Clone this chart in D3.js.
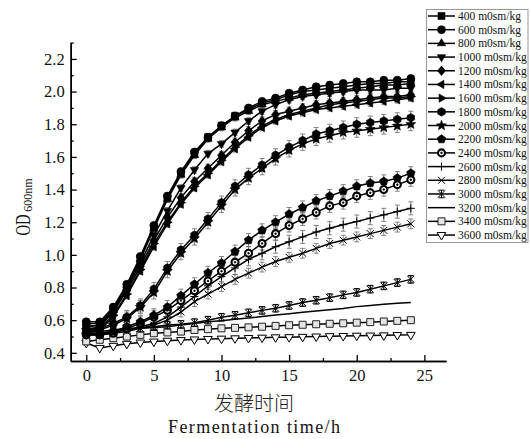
<!DOCTYPE html>
<html>
<head>
<meta charset="utf-8">
<script src="https://cdn.jsdelivr.net/npm/d3@7"></script>
<style>
  body { margin: 0; background: #fff; }
  svg { display: block; }
</style>
</head>
<body>
<svg id="chart" width="530" height="439"></svg>
<script>
// 시간 (h)
const hours = [0,1,2,3,4,5,6,7,8,9,10,11,12,13,14,15,16,17,18,19,20,21,22,23,24];

const levels = ["400 m0sm/kg","600 m0sm/kg","800 m0sm/kg","1000 m0sm/kg","1200 m0sm/kg",
  "1400 m0sm/kg","1600 m0sm/kg","1800 m0sm/kg","2000 m0sm/kg","2200 m0sm/kg","2400 m0sm/kg",
  "2600 m0sm/kg","2800 m0sm/kg","3000 m0sm/kg","3200 m0sm/kg","3400 m0sm/kg","3600 m0sm/kg"];

// OD600 값
const od400  = [0.58,0.58,0.67,0.81,0.98,1.17,1.35,1.50,1.62,1.72,1.79,1.85,1.89,1.93,1.95,1.98,2.00,2.01,2.02,2.03,2.04,2.05,2.05,2.06,2.06];
const od600  = [0.59,0.59,0.68,0.82,0.99,1.18,1.36,1.51,1.63,1.72,1.79,1.85,1.90,1.94,1.96,1.99,2.01,2.03,2.04,2.05,2.06,2.06,2.07,2.07,2.08];
const od800  = [0.56,0.57,0.66,0.80,0.97,1.16,1.34,1.49,1.61,1.71,1.78,1.84,1.88,1.92,1.94,1.96,1.98,1.99,2.00,2.01,2.02,2.03,2.04,2.04,2.05];
const od1000 = [0.56,0.57,0.66,0.79,0.95,1.12,1.27,1.41,1.52,1.62,1.68,1.75,1.82,1.88,1.92,1.95,1.97,1.98,1.99,2.00,2.01,2.01,2.01,2.02,2.02];
const od1200 = [0.54,0.56,0.65,0.78,0.93,1.09,1.23,1.35,1.45,1.53,1.61,1.69,1.76,1.82,1.86,1.88,1.90,1.92,1.93,1.94,1.95,1.96,1.97,1.97,1.98];
const od1400 = [0.52,0.54,0.62,0.75,0.90,1.05,1.19,1.31,1.41,1.49,1.57,1.65,1.72,1.78,1.82,1.85,1.87,1.89,1.90,1.91,1.92,1.93,1.94,1.95,1.96];
const od1600 = [0.53,0.55,0.63,0.76,0.91,1.07,1.20,1.32,1.42,1.50,1.58,1.66,1.73,1.79,1.83,1.86,1.88,1.90,1.92,1.93,1.94,1.95,1.96,1.96,1.97];
const od1800 = [0.55,0.55,0.58,0.62,0.69,0.79,0.92,1.03,1.12,1.22,1.32,1.42,1.49,1.55,1.61,1.66,1.70,1.74,1.76,1.78,1.80,1.81,1.82,1.83,1.84];
const od2000 = [0.54,0.54,0.57,0.61,0.68,0.77,0.90,1.01,1.10,1.20,1.30,1.40,1.47,1.53,1.59,1.64,1.68,1.71,1.73,1.75,1.76,1.77,1.78,1.79,1.80];
const od2200 = [0.52,0.51,0.53,0.56,0.59,0.63,0.68,0.75,0.82,0.89,0.95,1.02,1.09,1.15,1.20,1.25,1.29,1.33,1.36,1.39,1.42,1.44,1.45,1.47,1.50];
const od2400 = [0.51,0.51,0.52,0.55,0.58,0.62,0.66,0.72,0.78,0.84,0.90,0.955,1.01,1.07,1.13,1.18,1.22,1.26,1.30,1.32,1.36,1.38,1.40,1.43,1.46];
const od2600 = [0.52,0.52,0.53,0.54,0.56,0.58,0.62,0.68,0.745,0.81,0.867,0.92,0.973,1.01,1.05,1.08,1.11,1.14,1.163,1.185,1.204,1.225,1.245,1.265,1.285];
const od2800 = [0.51,0.51,0.52,0.53,0.55,0.57,0.60,0.65,0.714,0.76,0.806,0.85,0.888,0.925,0.959,0.985,1.01,1.04,1.07,1.09,1.11,1.13,1.15,1.17,1.19];
const od3000 = [0.53,0.53,0.54,0.55,0.55,0.56,0.57,0.575,0.585,0.60,0.618,0.63,0.645,0.66,0.673,0.69,0.708,0.722,0.738,0.755,0.77,0.79,0.81,0.83,0.85];
const od3200 = [0.52,0.52,0.53,0.54,0.55,0.555,0.56,0.57,0.58,0.59,0.596,0.605,0.613,0.622,0.631,0.64,0.648,0.656,0.664,0.672,0.683,0.69,0.697,0.703,0.708];
const od3400 = [0.47,0.48,0.49,0.50,0.51,0.52,0.525,0.53,0.54,0.545,0.55,0.553,0.556,0.56,0.565,0.569,0.572,0.575,0.578,0.581,0.585,0.588,0.592,0.596,0.60];
const od3600 = [0.46,0.43,0.443,0.455,0.463,0.469,0.474,0.478,0.482,0.485,0.487,0.489,0.491,0.493,0.495,0.496,0.498,0.50,0.502,0.503,0.505,0.506,0.507,0.509,0.51];

// 표준편차 (시리즈별 대략값)
const sdValues = [0.025,0.02,0.02,0.02,0.025,0.02,0.02,0.04,0.04,0.04,0.04,0.04,0.03,0.02,0,0.015,0.012];

const yTicks = [0.4,0.6,0.8,1.0,1.2,1.4,1.6,1.8,2.0,2.2];
const xTicks = [0,5,10,15,20,25];

// 마커 모양 (스타일)
const shapes = ["square","circle","triUp","triDown","diamond","triLeft","triRight","hexagon","star",
  "pentagon","circleDot","plus","cross","asterisk","none","openSquare","openTriDown"];

const allOd = [od400,od600,od800,od1000,od1200,od1400,od1600,od1800,od2000,od2200,od2400,
  od2600,od2800,od3000,od3200,od3400,od3600];

const series = levels.map((name, i) => ({
  name,
  shape: shapes[i],
  sd: sdValues[i],
  points: hours.map((t, j) => ({ t, v: allOd[i][j] }))
}));

/* ---------- 마커 경로 ---------- */
function polygon(n, r, rot) {
  const pts = d3.range(n).map(k => {
    const a = rot + k * 2 * Math.PI / n;
    return [r * Math.sin(a), -r * Math.cos(a)];
  });
  return "M" + pts.map(p => p.map(v => v.toFixed(2)).join(",")).join("L") + "Z";
}
function starPath(ro, ri) {
  const pts = d3.range(10).map(k => {
    const r = k % 2 ? ri : ro;
    const a = k * Math.PI / 5;
    return [r * Math.sin(a), -r * Math.cos(a)];
  });
  return "M" + pts.map(p => p.map(v => v.toFixed(2)).join(",")).join("L") + "Z";
}
const circleD = r => `M${-r},0A${r},${r} 0 1,0 ${r},0A${r},${r} 0 1,0 ${-r},0Z`;

function drawMarker(g, shape, cx, cy) {
  const m = g.append("g").attr("transform", `translate(${cx},${cy})`);
  const solid = d => m.append("path").attr("d", d).attr("fill", "#000").attr("stroke", "#000").attr("stroke-width", 0.6);
  const open = d => m.append("path").attr("d", d).attr("fill", "#fff").attr("stroke", "#000").attr("stroke-width", 1);
  const strk = d => m.append("path").attr("d", d).attr("fill", "none").attr("stroke", "#000").attr("stroke-width", 1);
  switch (shape) {
    case "square": solid("M-3.5,-3.5H3.5V3.5H-3.5Z"); break;
    case "circle": solid(circleD(4)); break;
    case "triUp": solid(polygon(3, 4.8, 0)); break;
    case "triDown": solid(polygon(3, 4.8, Math.PI)); break;
    case "triLeft": solid(polygon(3, 4.8, -Math.PI / 2)); break;
    case "triRight": solid(polygon(3, 4.8, Math.PI / 2)); break;
    case "diamond": solid("M0,-4.8L4,0L0,4.8L-4,0Z"); break;
    case "hexagon": solid(polygon(6, 4.3, 0)); break;
    case "pentagon": solid(polygon(5, 4.5, 0)); break;
    case "star": solid(starPath(5.2, 2.3)); break;
    case "circleDot":
      m.append("path").attr("d", circleD(3.5)).attr("fill", "#fff").attr("stroke", "#000").attr("stroke-width", 2.1);
      solid(circleD(0.9));
      break;
    case "plus": strk("M-4,0H4M0,-4V4"); break;
    case "cross": strk("M-3.5,-3.5L3.5,3.5M-3.5,3.5L3.5,-3.5"); break;
    case "asterisk": strk("M-3.5,-3.5L3.5,3.5M-3.5,3.5L3.5,-3.5M0,-4V4M-3,-3.8H3M-3,3.8H3"); break;
    case "openSquare":
      m.append("path").attr("d", "M-3.5,-3.5H3.5V3.5H-3.5Z").attr("fill", "#e4e4e4").attr("stroke", "#222").attr("stroke-width", 1);
      break;
    case "openTriDown": open(polygon(3, 5, Math.PI)); break;
  }
}

/* ---------- 차트 ---------- */
const svg = d3.select("#chart");
svg.append("rect").attr("width", 530).attr("height", 439).attr("fill", "#fff");

const x = d3.scaleLinear().domain([-1.15, 26.6]).range([70.7, 446]);
const y = d3.scaleLinear().domain([0.35, 2.3]).range([361, 42.6]);

const serif = "'Liberation Serif','DejaVu Serif',serif";

// 축
const yAxis = svg.append("g")
  .attr("transform", `translate(${x.range()[0]},0)`)
  .call(d3.axisLeft(y).tickValues(yTicks).tickFormat(d3.format(".1f"))
    .tickSize(-6).tickSizeOuter(0).tickPadding(6));
const yMinor = svg.append("g")
  .attr("transform", `translate(${x.range()[0]},0)`)
  .call(d3.axisLeft(y).tickValues(yTicks.map(v => v + 0.1)).tickFormat("")
    .tickSize(-3).tickSizeOuter(0));

const xAxis = svg.append("g")
  .attr("transform", `translate(0,${y.range()[0]})`)
  .call(d3.axisBottom(x).tickValues(xTicks).tickFormat(d3.format("d"))
    .tickSize(-6).tickSizeOuter(0).tickPadding(8));
const xMinor = svg.append("g")
  .attr("transform", `translate(0,${y.range()[0]})`)
  .call(d3.axisBottom(x).tickValues(xTicks.slice(0, -1).map(v => v + 2.5)).tickFormat("")
    .tickSize(-3).tickSizeOuter(0));

[yAxis, yMinor, xAxis, xMinor].forEach(a => {
  a.select(".domain").attr("stroke", "#000").attr("stroke-width", 1.5);
  a.selectAll(".tick line").attr("stroke", "#000").attr("stroke-width", 1.3);
  a.selectAll(".tick text").attr("font-family", serif).attr("font-size", 16.5).attr("fill", "#111");
});

// 오차막대
const gErr = svg.append("g");
series.forEach(s => {
  if (!s.sd) return;
  s.points.forEach(p => {
    const px = x(p.t), y0 = y(p.v - s.sd), y1 = y(p.v + s.sd);
    gErr.append("path")
      .attr("d", `M${px},${y0}V${y1}M${px - 2.5},${y0}H${px + 2.5}M${px - 2.5},${y1}H${px + 2.5}`)
      .attr("fill", "none").attr("stroke", "#666").attr("stroke-width", 0.8);
  });
});

// 선
const line = d3.line().x(d => x(d.t)).y(d => y(d.v));
const gLines = svg.append("g");
series.forEach(s => {
  gLines.append("path").attr("d", line(s.points))
    .attr("fill", "none").attr("stroke", "#000").attr("stroke-width", 1.5);
});

// 마커
const gMarks = svg.append("g");
series.slice().reverse().forEach(s => {
  s.points.forEach(p => drawMarker(gMarks, s.shape, x(p.t), y(p.v)));
});

// 범례
const leg = svg.append("g");
leg.append("rect").attr("x", 426.5).attr("y", 9.5).attr("width", 101.5).attr("height", 233)
  .attr("fill", "#fff").attr("stroke", "#999").attr("stroke-width", 1);
series.forEach((s, i) => {
  const cy = 16 + i * 13.69;
  leg.append("line").attr("x1", 428).attr("x2", 455).attr("y1", cy).attr("y2", cy)
    .attr("stroke", "#000").attr("stroke-width", 1.5);
  drawMarker(leg, s.shape, 441.5, cy);
  leg.append("text").attr("x", 458).attr("y", cy + 4)
    .attr("font-family", serif).attr("font-size", 11.5).attr("fill", "#111")
    .text(s.name);
});

// 축 제목
svg.append("text")
  .attr("transform", "translate(29.5,225) rotate(-90) scale(0.66,1)")
  .attr("text-anchor", "middle").attr("font-family", serif).attr("font-size", 22).attr("fill", "#111")
  .text("OD");
svg.append("text")
  .attr("transform", "translate(32,195) rotate(-90)")
  .attr("text-anchor", "middle").attr("font-family", serif).attr("font-size", 12).attr("fill", "#111")
  .text("600nm");

svg.append("text")
  .attr("x", 254).attr("y", 411).attr("text-anchor", "middle")
  .attr("font-family", "'Noto Sans CJK SC',sans-serif").attr("font-weight", 300)
  .attr("font-size", 20).attr("fill", "#222")
  .text("发酵时间");
svg.append("text")
  .attr("x", 254).attr("y", 433).attr("text-anchor", "middle")
  .attr("font-family", serif).attr("font-size", 18).attr("fill", "#111")
  .attr("textLength", 172).attr("lengthAdjust", "spacing")
  .text("Fermentation  time/h");
</script>
</body>
</html>
